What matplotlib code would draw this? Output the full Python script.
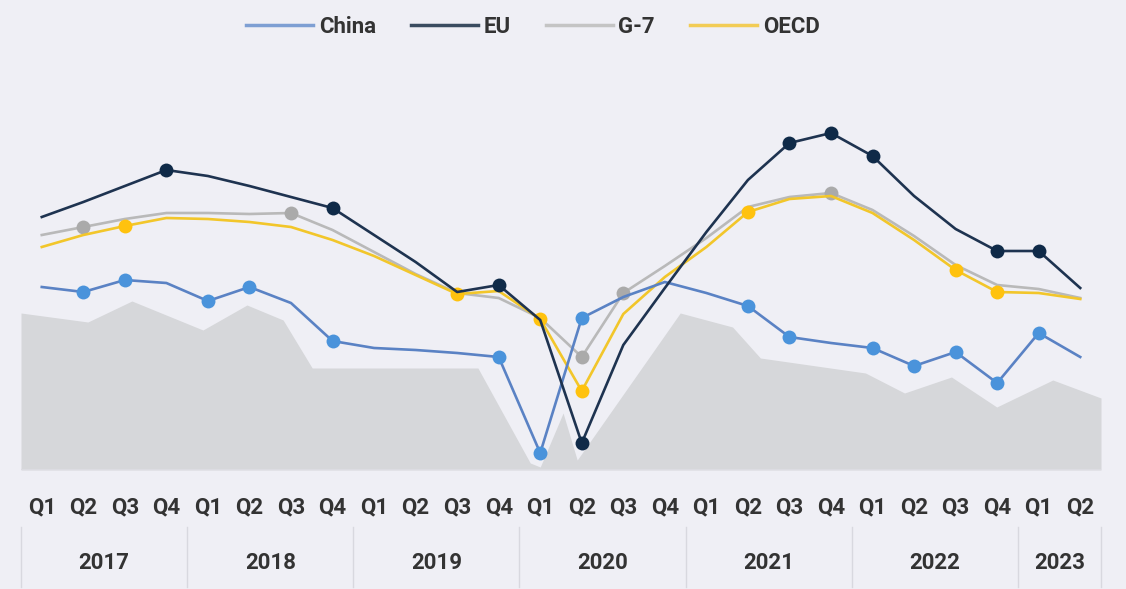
import matplotlib
matplotlib.use("Agg")
import matplotlib.pyplot as plt
from matplotlib.lines import Line2D

plt.rcParams['font.family'] = ['Liberation Sans Narrow', 'Roboto', 'DejaVu Sans']

# ---------------- data ----------------
quarters = ["Q1", "Q2", "Q3", "Q4"] * 6 + ["Q1", "Q2"]
years = ["2017", "2018", "2019", "2020", "2021", "2022", "2023"]
year_quarter_counts = [4, 4, 4, 4, 4, 4, 2]

china = [18.3, 17.8, 19.0, 18.7, 16.9, 18.3, 16.7, 12.9, 12.2, 12.0, 11.7, 11.3, 1.7,
         15.2, 17.3, 18.8, 17.7, 16.4, 13.3, 12.7, 12.2, 10.4, 11.8, 8.7, 13.7, 11.3]
eu = [25.3, 26.8, 28.4, 30.0, 29.4, 28.4, 27.3, 26.2, 23.5, 20.8, 17.8, 18.5, 15.0,
      2.7, 12.5, 18.2, 23.8, 29.0, 32.7, 33.7, 31.4, 27.4, 24.1, 21.9, 21.9, 18.2]
g7 = [23.5, 24.3, 25.1, 25.7, 25.7, 25.6, 25.7, 24.0, 21.8, 19.6, 17.7, 17.2, 15.2,
      11.3, 17.7, 20.4, 23.2, 26.3, 27.3, 27.7, 26.0, 23.4, 20.5, 18.5, 18.1, 17.2]
oecd = [22.3, 23.5, 24.4, 25.2, 25.1, 24.8, 24.3, 23.0, 21.4, 19.5, 17.6, 17.9, 15.1,
        7.9, 15.6, 19.3, 22.3, 25.8, 27.1, 27.4, 25.7, 23.0, 20.0, 17.8, 17.7, 17.1]

# quarter indices that carry a highlighted marker
china_marks = [1, 2, 4, 5, 7, 11, 12, 13, 17, 18, 20, 21, 22, 23, 24]
eu_marks = [3, 7, 11, 13, 18, 19, 20, 23, 24]
g7_marks = [1, 6, 13, 14, 19]
oecd_marks = [2, 10, 12, 13, 17, 22, 23]

# grey background band (quarter position, value)
band_x = [-0.5, 1.11, 2.17, 3.88, 4.94, 5.81, 6.51, 10.5, 11.76, 12.0, 12.55, 12.89,
          15.37, 16.63, 17.3, 19.83, 20.77, 21.9, 22.99, 24.34, 25.5]
band_y = [15.7, 14.8, 16.9, 14.0, 16.5, 15.0, 10.2, 10.2, 0.7, 0.3, 5.7, 1.0,
          15.7, 14.3, 11.2, 9.7, 7.7, 9.3, 6.3, 9.0, 7.2]

# ---------------- style ----------------
BG = "#EFEFF5"
TXT = "#333333"
C_CHINA_L, C_CHINA_M = "#5A82C4", "#4A93DB"
C_EU_L, C_EU_M = "#1E3350", "#0F2A48"
C_G7_L, C_G7_M = "#B9B9B9", "#AAAAAA"
C_OECD_L, C_OECD_M = "#F2C62A", "#FFC20E"

W, H = 1126, 589
fig = plt.figure(figsize=(W / 100, H / 100), dpi=100, facecolor=BG)
ax = fig.add_axes([21 / W, 1 - 470 / H, (1101 - 21) / W, (470 - 100) / H])
ax.set_facecolor(BG)
ax.set_xlim(-0.5, 25.5)
ax.set_ylim(0, 37)
for s in ax.spines.values():
    s.set_visible(False)
ax.set_yticks([])
ax.set_xticks([])

ax.fill_between(band_x, band_y, 0, color="#D6D7DA", lw=0, zorder=1)
ax.axhline(0, color="#DCDCE2", lw=1.5, zorder=1)

x = list(range(len(quarters)))
series = [
    ("China", china, china_marks, C_CHINA_L, C_CHINA_M, 5),
    ("G-7", g7, g7_marks, C_G7_L, C_G7_M, 3),
    ("OECD", oecd, oecd_marks, C_OECD_L, C_OECD_M, 4),
    ("EU", eu, eu_marks, C_EU_L, C_EU_M, 6),
]
for name, vals, marks, lc, mc, z in series:
    ax.plot(x, vals, color=lc, lw=1.9, zorder=z, solid_joinstyle="round")
    ax.plot([x[i] for i in marks], [vals[i] for i in marks], ls="none", marker="o",
            ms=10, color=mc, mec="none", zorder=z + 0.5)

# quarter labels
for i, q in enumerate(quarters):
    ax.text(i, -37 * (507 - 470) / 370, q, ha="center", va="center", fontsize=16,
            color=TXT, fontweight="bold", clip_on=False)

# year labels and separators
start = 0
ysep_top = -37 * (527 - 470) / 370
ysep_bot = -37 * (587 - 470) / 370
ax.plot([-0.5, -0.5], [ysep_top, ysep_bot], color="#D8D8DF", lw=1, clip_on=False)
for yr, n in zip(years, year_quarter_counts):
    center = start + (n - 1) / 2
    ax.text(center, -37 * (563 - 470) / 370, yr, ha="center", va="center", fontsize=16,
            color=TXT, fontweight="bold", clip_on=False)
    end = start + n - 0.5
    ax.plot([end, end], [ysep_top, ysep_bot], color="#D8D8DF", lw=1, clip_on=False)
    start += n

# legend
handles = [
    Line2D([], [], color="#7E9FD3", lw=2.5),
    Line2D([], [], color="#3A4C60", lw=2.5),
    Line2D([], [], color="#C4C4C4", lw=2.5),
    Line2D([], [], color="#F2CC55", lw=2.5),
]
leg = fig.legend(handles, ["China", "EU", "G-7", "OECD"], loc="center",
                 bbox_to_anchor=(533 / W, 1 - 27 / H), ncol=4, frameon=False,
                 fontsize=16, handlelength=3.0, handletextpad=0.25, columnspacing=1.6)
for t in leg.get_texts():
    t.set_color(TXT)
    t.set_fontweight("bold")

fig.savefig("out.png", dpi=100, facecolor=BG)
